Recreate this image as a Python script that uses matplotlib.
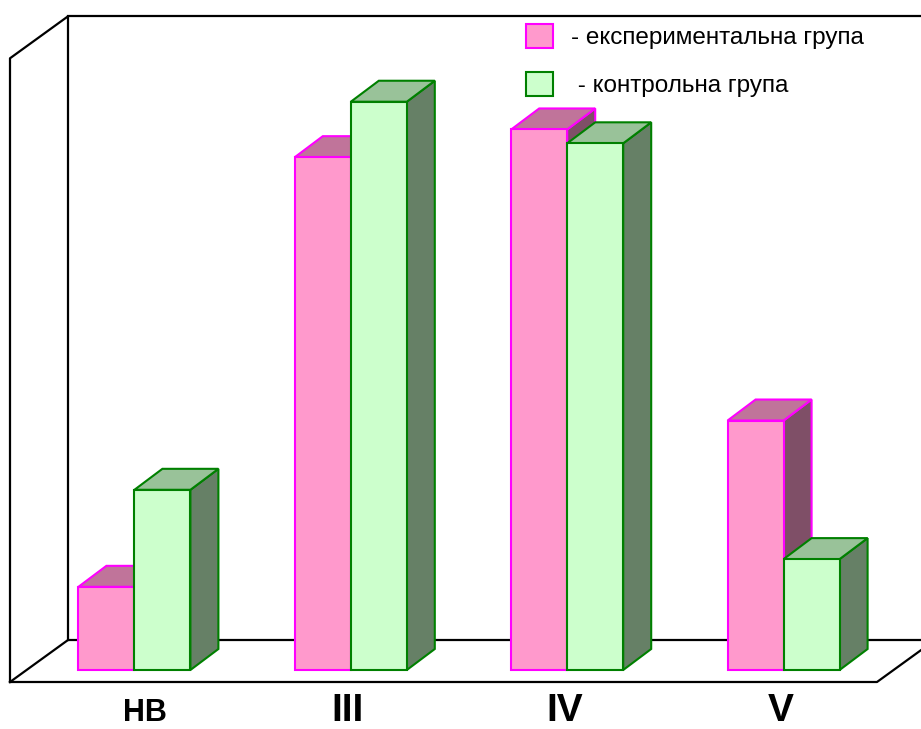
import numpy as np
import matplotlib.pyplot as plt
from matplotlib.patches import Polygon, Rectangle

plt.rcParams["font.family"] = ["Liberation Sans", "DejaVu Sans"]

# відсоток учнів за рівнями
levels = ["НВ", "III", "IV", "V"]
exp_group = [6, 37, 39, 18]
ctrl_group = [13, 41, 38, 8]
legend_labels = ["- експериментальна група", " - контрольна група"]

# pixel scale of the drawing: one category step and one percent
px_x = 216.4
px_y = 13.86
x0_px = 134.4
base_px = 670

W, H = 921, 729
fig = plt.figure(figsize=(W / 100, H / 100), dpi=100)
ax = fig.add_axes([0, 0, 1, 1])
ax.set_xlim(-x0_px / px_x, (W - x0_px) / px_x)
ax.set_ylim((base_px - H) / px_y, base_px / px_y)
ax.axis("off")

# depth of the bars and of the box
bw = 56 / px_x
bdx, bdy = 28 / px_x, 21 / px_y
wdx, wdy = 58 / px_x, 42 / px_y

# box: floor and left/back walls
fl = -12 / px_y
xl = (10 - x0_px) / px_x
xr = (877 - x0_px) / px_x
top = fl + wdy + 45
lk = dict(color="black", lw=1.6, solid_capstyle="projecting", zorder=1)
ax.plot([xl, xr, xr + wdx], [fl, fl, fl + wdy], **lk)
ax.plot([xl, xl + wdx, xr + wdx + 1], [fl, fl + wdy, fl + wdy], **lk)
ax.plot([xl, xl, xl + wdx, xl + wdx], [fl, top - wdy, top, fl + wdy], **lk)
ax.plot([xl + wdx, xr + wdx + 1], [top, top], **lk)


def bar3d(x, h, front, topc, side, edge, z):
    ax.add_patch(Polygon([(x + bw, 0), (x + bw + bdx, bdy), (x + bw + bdx, h + bdy), (x + bw, h)],
                         closed=True, fc=side, ec=edge, lw=1.5, zorder=z, joinstyle="miter"))
    ax.add_patch(Polygon([(x, h), (x + bw, h), (x + bw + bdx, h + bdy), (x + bdx, h + bdy)],
                         closed=True, fc=topc, ec=edge, lw=1.5, zorder=z, joinstyle="miter"))


pos = np.arange(len(levels))
series = [
    (exp_group, pos - bw, "#ff99cc", "#c0749a", "#7f4f67", "#ff00ff"),
    (ctrl_group, pos, "#ccffcc", "#99c299", "#668066", "#008000"),
]
for k, (vals, xs, front, topc, side, edge) in enumerate(series):
    z = 2 + 2 * np.arange(len(vals)) + k
    for x, h, zz in zip(xs, vals, z):
        bar3d(x, h, front, topc, side, edge, zz)
        ax.bar(x, h, width=bw, align="edge", color=front, edgecolor=edge, lw=1.5, zorder=zz)

lab_y = (base_px - 721) / px_y
for i, lab in enumerate(levels):
    size = 22 if lab == "НВ" else 28
    dx = 11 / px_x if lab == "НВ" else -3 / px_x
    ax.text(i + dx, lab_y, lab, ha="center", va="baseline", fontsize=size, fontweight="bold")

# legend
leg = [(24, "#ff99cc", "#ff00ff", 571), (72, "#ccffcc", "#008000", 571)]
for (ytop, fc, ec, tx), lab in zip(leg, legend_labels):
    fig.patches.append(Rectangle((526 / W, 1 - (ytop + 24) / H), 27 / W, 24 / H,
                                 transform=fig.transFigure, fc=fc, ec=ec, lw=1.5))
    fig.text(tx / W, 1 - (ytop + 14) / H, lab, fontsize=17.5, va="center", ha="left")

fig.savefig("out.png", dpi=100)
